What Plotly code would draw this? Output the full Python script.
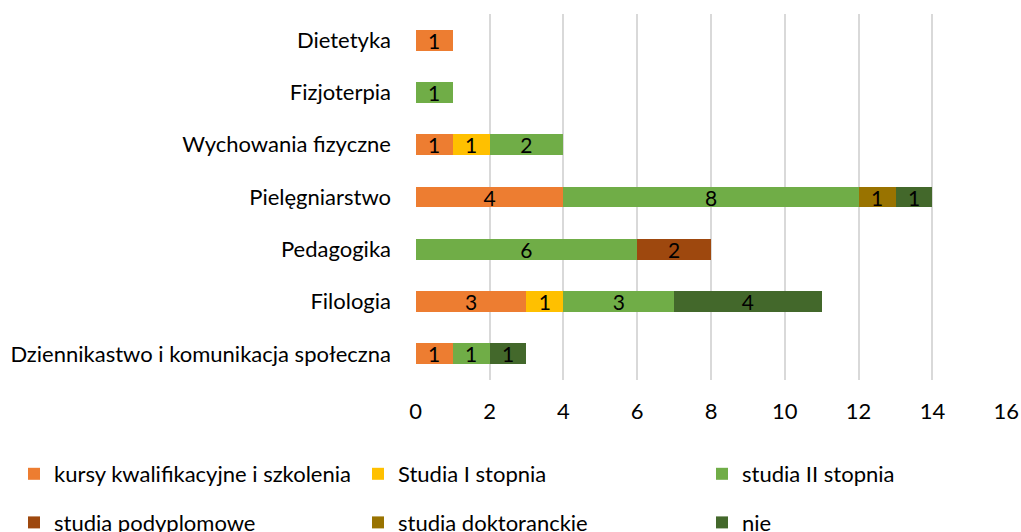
import plotly.graph_objects as go

categories = ["Dziennikastwo i komunikacja społeczna", "Filologia", "Pedagogika",
              "Pielęgniarstwo", "Wychowania fizyczne", "Fizjoterpia", "Dietetyka"]
series_names = ["kursy kwalifikacyjne i szkolenia", "Studia I stopnia", "studia II stopnia",
                "studia podyplomowe", "studia doktoranckie", "nie"]
kursy = [1, 3, 0, 4, 1, 0, 1]
studia_1 = [0, 1, 0, 0, 1, 0, 0]
studia_2 = [1, 3, 6, 8, 2, 1, 0]
podyplomowe = [0, 0, 2, 0, 0, 0, 0]
doktoranckie = [0, 0, 0, 1, 0, 0, 0]
nie = [1, 4, 0, 1, 0, 0, 0]
x_ticks = [0, 2, 4, 6, 8, 10, 12, 14, 16]

values = [kursy, studia_1, studia_2, podyplomowe, doktoranckie, nie]
colors = ["#ED7D31", "#FFC000", "#70AD47", "#9E480E", "#997300", "#43682B"]
legends = ["legend", "legend2", "legend3", "legend", "legend2", "legend3"]

FONT = "Lato"
FS = 22
fig = go.Figure()
for name, vals, col, lg in zip(series_names, values, colors, legends):
    xs = [v if v else None for v in vals]
    fig.add_trace(go.Bar(
        y=categories, x=xs, name=name, orientation="h",
        marker=dict(color=col, line=dict(width=0)),
        text=[str(v) if v else "" for v in vals],
        textposition="inside", insidetextanchor="middle", textangle=0,
        constraintext="none",
        textfont=dict(color="black", size=FS - 1, family=FONT),
        legend=lg, legendgroup=name,
    ))

W, H = 1021, 532
ml, mr, mt, mb = 415, 14, 14, 152

def legend_cfg(xpx):
    return dict(x=xpx / W, y=1 - 453 / H, xref="container", yref="container",
                xanchor="left", yanchor="top",
                orientation="v", font=dict(size=FS, family=FONT, color="black"),
                tracegroupgap=17, bgcolor="rgba(0,0,0,0)", traceorder="grouped")

fig.update_layout(
    width=W, height=H, barmode="stack", bargap=0.6,
    paper_bgcolor="white", plot_bgcolor="white",
    margin=dict(l=ml, r=mr, t=mt, b=mb, autoexpand=False),
    font=dict(family=FONT, size=FS, color="black"),
    legend=legend_cfg(14), legend2=legend_cfg(358), legend3=legend_cfg(702),
    xaxis=dict(range=[-0.02, 16.02], tickvals=x_ticks, showgrid=True, gridcolor="#D9D9D9",
               gridwidth=1.5, zeroline=False, showline=False, automargin=False,
               ticklabelstandoff=16, tickfont=dict(size=FS, family=FONT, color="black")),
    yaxis=dict(categoryorder="array", categoryarray=categories, showgrid=False,
               zeroline=False, showline=False, ticklabelstandoff=23, automargin=False,
               tickfont=dict(size=FS, family=FONT, color="black")),
)
fig.write_html("out.html", config={"displayModeBar": False},
               post_script="document.body.style.margin='0';document.body.style.overflow='hidden';")
